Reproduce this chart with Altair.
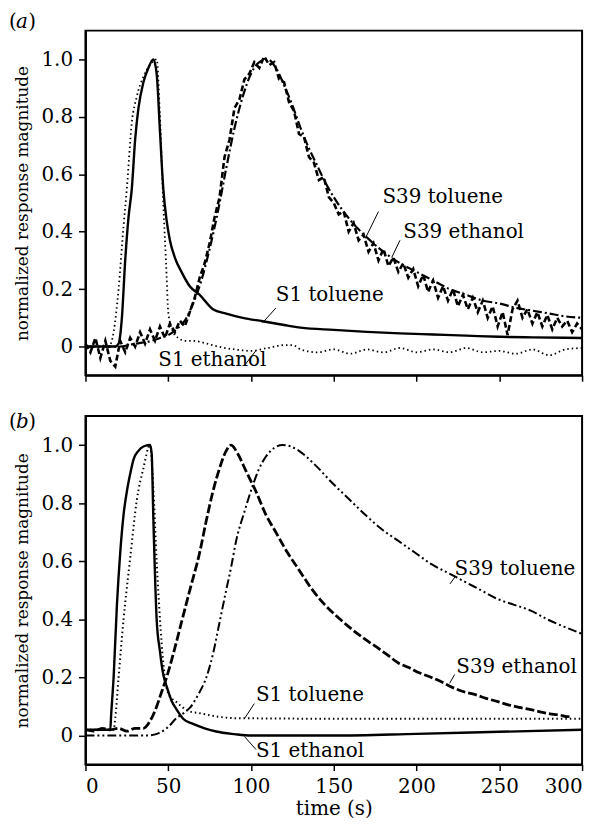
import altair as alt
import pandas as pd

FONT = "DejaVu Serif"

# ---------------- panel (a) ----------------
a_s1tol_t = [0, 10, 18, 20, 22, 24, 26, 28, 30, 32, 35, 38, 41, 43, 45, 47, 49, 51, 54, 58, 63, 69, 77, 85, 95, 107, 120, 130, 150, 170, 190, 210, 230, 250, 270, 300]
a_s1tol_v = [0.0, 0.0, 0.0, 0.01, 0.1, 0.3, 0.45, 0.55, 0.72, 0.83, 0.92, 0.97, 1.0, 0.95, 0.75, 0.55, 0.44, 0.37, 0.31, 0.26, 0.21, 0.18, 0.13, 0.115, 0.10, 0.088, 0.075, 0.066, 0.058, 0.051, 0.046, 0.042, 0.038, 0.034, 0.032, 0.03]

a_s1eth_t = [0, 14, 17, 20, 23, 25, 28, 31, 35, 39, 43, 45, 47, 49, 50, 53, 56, 60, 65, 70, 80, 90, 100, 110, 120, 125, 130, 140, 150, 160, 170, 180, 190, 200, 210, 220, 230, 240, 250, 260, 270, 280, 290, 300]
a_s1eth_v = [0.0, 0.0, 0.05, 0.2, 0.42, 0.55, 0.78, 0.87, 0.94, 0.98, 1.0, 0.8, 0.5, 0.25, 0.12, 0.05, 0.03, 0.02, 0.02, 0.015, 0.0, -0.01, -0.015, -0.005, 0.005, 0.005, -0.01, -0.02, -0.01, -0.025, -0.01, -0.02, -0.005, -0.02, -0.01, -0.02, -0.005, -0.02, -0.015, -0.025, -0.01, -0.03, -0.01, -0.005]

a_s39tol_t = [0, 10, 20, 30, 40, 45, 50, 55, 60, 65, 70, 75, 80, 85, 90, 95, 100, 105, 110, 115, 120, 125, 130, 135, 140, 145, 150, 160, 170, 180, 190, 200, 210, 220, 230, 240, 250, 260, 270, 280, 290, 300]
a_s39tol_v = [0.0, 0.0, 0.0, 0.01, 0.02, 0.03, 0.04, 0.06, 0.09, 0.15, 0.23, 0.34, 0.47, 0.62, 0.76, 0.87, 0.95, 0.99, 1.0, 0.97, 0.91, 0.84, 0.76, 0.69, 0.63, 0.57, 0.52, 0.44, 0.38, 0.33, 0.29, 0.26, 0.23, 0.20, 0.18, 0.16, 0.15, 0.135, 0.125, 0.115, 0.105, 0.10]

# S39 ethanol (a): noisy trace read every 3 s
a_s39eth_t = list(range(0, 301, 3))
a_s39eth_v = [0.01, -0.02, 0.03, -0.04, 0.02, -0.05, -0.07, 0.02, -0.02, 0.03,
              0.0, 0.05, 0.01, 0.06, 0.02, 0.07, 0.03, 0.08, 0.05, 0.09,
              0.07, 0.12, 0.17, 0.24, 0.29, 0.36, 0.45, 0.52, 0.66, 0.72,
              0.83, 0.86, 0.93, 0.95, 0.99, 0.97, 1.01, 0.98, 0.99, 0.93,
              0.92, 0.85, 0.82, 0.74, 0.73, 0.66, 0.64, 0.58, 0.59, 0.52,
              0.50, 0.46, 0.47, 0.40, 0.43, 0.37, 0.39, 0.33, 0.36, 0.30,
              0.34, 0.28, 0.31, 0.26, 0.29, 0.24, 0.27, 0.21, 0.25, 0.19,
              0.23, 0.17, 0.21, 0.16, 0.20, 0.14, 0.18, 0.13, 0.17, 0.12,
              0.16, 0.10, 0.14, 0.07, 0.12, 0.04, 0.13, 0.16, 0.10, 0.13,
              0.08, 0.12, 0.07, 0.11, 0.06, 0.10, 0.07, 0.09, 0.05, 0.08,
              0.06]

a_lab_text = ["S39 toluene", "S39 ethanol", "S1 toluene", "S1 ethanol"]
a_lab_t = [179.4, 192, 115, 44]
a_lab_v = [0.52, 0.40, 0.18, -0.048]
a_lead_t = [177, 190, 115, 96]
a_lead_v = [0.47, 0.37, 0.134, -0.066]
a_lead_t2 = [169, 185, 107, 103]
a_lead_v2 = [0.376, 0.31, 0.083, -0.014]

# ---------------- panel (b) ----------------
b_s1eth_t = [0, 15, 15.5, 17, 19, 21, 23, 25, 27, 29, 32, 35, 39, 40, 41, 43, 45, 47, 49, 52, 55, 59, 65, 72, 79, 90, 100, 150, 200, 250, 300]
b_s1eth_v = [0.02, 0.02, 0.07, 0.2, 0.45, 0.63, 0.76, 0.84, 0.9, 0.95, 0.98, 0.995, 1.0, 0.97, 0.75, 0.40, 0.29, 0.21, 0.17, 0.12, 0.09, 0.058, 0.04, 0.025, 0.014, 0.005, 0.0, 0.0, 0.006, 0.013, 0.02]

b_s1tol_t = [0, 17, 18, 20, 23, 27, 31, 35, 39, 41, 43, 45, 47, 50, 55, 63, 69, 80, 90, 150, 300]
b_s1tol_v = [0.02, 0.02, 0.06, 0.2, 0.40, 0.61, 0.81, 0.92, 1.0, 0.85, 0.6, 0.4, 0.25, 0.145, 0.115, 0.083, 0.077, 0.065, 0.06, 0.058, 0.058]

b_s39eth_t = [0, 5, 10, 15, 20, 25, 30, 35, 39, 43, 46, 49, 53, 58, 63, 69, 73, 77, 81, 85, 88, 92, 97, 103, 109, 115, 122, 129, 136, 143, 150, 159, 168, 177, 183, 189, 195, 202, 209, 215, 222, 229, 236, 242, 249, 256, 262, 269, 276, 283, 287, 291, 293]
b_s39eth_v = [0.02, 0.015, 0.025, 0.02, 0.025, 0.015, 0.025, 0.025, 0.05, 0.1, 0.15, 0.2, 0.28, 0.39, 0.5, 0.63, 0.74, 0.84, 0.92, 0.98, 1.0, 0.97, 0.91, 0.84, 0.76, 0.70, 0.63, 0.57, 0.51, 0.46, 0.42, 0.375, 0.335, 0.30, 0.275, 0.25, 0.235, 0.215, 0.2, 0.185, 0.165, 0.15, 0.14, 0.128, 0.117, 0.105, 0.097, 0.089, 0.08, 0.073, 0.07, 0.065, 0.065]

b_s39tol_t = [0, 37, 45, 50, 55, 60, 63, 68, 73, 77, 81, 85, 88, 91, 96, 101, 105, 109, 114, 119, 124, 129, 139, 149, 159, 169, 179, 189, 199, 209, 219, 229, 239, 249, 259, 269, 279, 289, 300]
b_s39tol_v = [0.0, 0.0, 0.01, 0.03, 0.06, 0.08, 0.095, 0.14, 0.2, 0.28, 0.39, 0.5, 0.58, 0.67, 0.77, 0.86, 0.92, 0.96, 0.99, 1.0, 0.995, 0.98, 0.93, 0.87, 0.815, 0.76, 0.71, 0.67, 0.63, 0.59, 0.56, 0.53, 0.50, 0.47, 0.45, 0.43, 0.40, 0.375, 0.35]

b_lab_text = ["S39 toluene", "S39 ethanol", "S1 toluene", "S1 ethanol"]
b_lab_t = [223, 224, 103, 103]
b_lab_v = [0.574, 0.237, 0.141, -0.055]
b_lead_t = [223.2, 223, 102, 96]
b_lead_v = [0.546, 0.21, 0.11, -0.003]
b_lead_t2 = [220.2, 220, 96, 103]
b_lead_v2 = [0.522, 0.18, 0.058, -0.048]

x_ticks = [0, 50, 100, 150, 200, 250, 300]
y_ticks = [0, 0.2, 0.4, 0.6, 0.8, 1.0]

xs = alt.Scale(domain=[0, 300], nice=False, zero=False)
ys = alt.Scale(domain=[-0.1, 1.1], nice=False, zero=False)

yaxis = alt.Axis(values=y_ticks, title="normalized response magnitude",
                 labelExpr="datum.value == 0 ? '0' : format(datum.value, '.1f')",
                 tickSize=7, labelPadding=6, titlePadding=10,
                 labelFont=FONT, labelFontSize=20, titleFont=FONT, titleFontSize=17)
xaxis_a = alt.Axis(values=x_ticks, labels=False, title=None, tickSize=6)
xaxis_b = alt.Axis(values=x_ticks, title="time (s)", tickSize=6, labelPadding=6, titlePadding=2,
                   labelFont=FONT, labelFontSize=20, titleFont=FONT, titleFontSize=20)


def line(t, v, xaxis, dash=None, width=2.2, interp="monotone"):
    df = pd.DataFrame({"t": t, "v": v})
    kw = dict(color="black", strokeWidth=width, interpolate=interp)
    if dash:
        kw["strokeDash"] = dash
    return alt.Chart(df).mark_line(**kw).encode(
        x=alt.X("t:Q", scale=xs, axis=xaxis),
        y=alt.Y("v:Q", scale=ys, axis=yaxis),
    )


def labels(txt, t, v, xaxis):
    df = pd.DataFrame({"label": txt, "t": t, "v": v})
    return alt.Chart(df).mark_text(align="left", baseline="middle", font=FONT,
                                   fontSize=20, color="black").encode(
        x=alt.X("t:Q", scale=xs, axis=xaxis),
        y=alt.Y("v:Q", scale=ys, axis=yaxis),
        text="label:N",
    )


def leaders(t, v, t2, v2, xaxis):
    df = pd.DataFrame({"t": t, "v": v, "t2": t2, "v2": v2})
    return alt.Chart(df).mark_rule(color="black", strokeWidth=1).encode(
        x=alt.X("t:Q", scale=xs, axis=xaxis),
        y=alt.Y("v:Q", scale=ys, axis=yaxis),
        x2="t2:Q", y2="v2:Q",
    )


def panel_tag(letter, y):
    one = pd.DataFrame({"k": [0]})
    parts = []
    for txt, x, style in [("(", -77, "normal"), (letter, -70, "italic"), (")", -57.5, "normal")]:
        parts.append(alt.Chart(one).mark_text(text=txt, align="left", baseline="middle",
                                              font=FONT, fontSize=20, fontStyle=style,
                                              color="black").encode(
            x=alt.value(x), y=alt.value(y)))
    return parts


panel_a = alt.layer(
    line(a_s39eth_t, a_s39eth_v, xaxis_a, dash=[6, 3], width=2.6, interp="linear"),
    line(a_s39tol_t, a_s39tol_v, xaxis_a, dash=[9, 3, 2, 3], width=2.2),
    line(a_s1eth_t, a_s1eth_v, xaxis_a, dash=[1.5, 3], width=1.8),
    line(a_s1tol_t, a_s1tol_v, xaxis_a, width=2.4),
    labels(a_lab_text, a_lab_t, a_lab_v, xaxis_a),
    leaders(a_lead_t, a_lead_v, a_lead_t2, a_lead_v2, xaxis_a),
    *panel_tag("a", -9),
).properties(width=500, height=347)

panel_b = alt.layer(
    line(b_s39eth_t, b_s39eth_v, xaxis_b, dash=[9, 3], width=2.8),
    line(b_s39tol_t, b_s39tol_v, xaxis_b, dash=[9, 3, 2, 3, 2, 3], width=2.0),
    line(b_s1tol_t, b_s1tol_v, xaxis_b, dash=[1.5, 3], width=2.0),
    line(b_s1eth_t, b_s1eth_v, xaxis_b, width=2.4),
    labels(b_lab_text, b_lab_t, b_lab_v, xaxis_b),
    leaders(b_lead_t, b_lead_v, b_lead_t2, b_lead_v2, xaxis_b),
    *panel_tag("b", 6),
).properties(width=500, height=351)

chart = alt.vconcat(panel_a, panel_b, spacing=28).properties(
    padding={"left": 0, "top": 0, "right": 5, "bottom": 0}
).configure_view(
    stroke="black", strokeWidth=2
).configure_axis(
    domainColor="black", domainWidth=2, tickColor="black", tickWidth=1.5,
    labelColor="black", titleFontWeight="normal", titleColor="black",
    grid=False,
)

chart.save("out.html", embed_options={"renderer": "svg", "actions": False})
